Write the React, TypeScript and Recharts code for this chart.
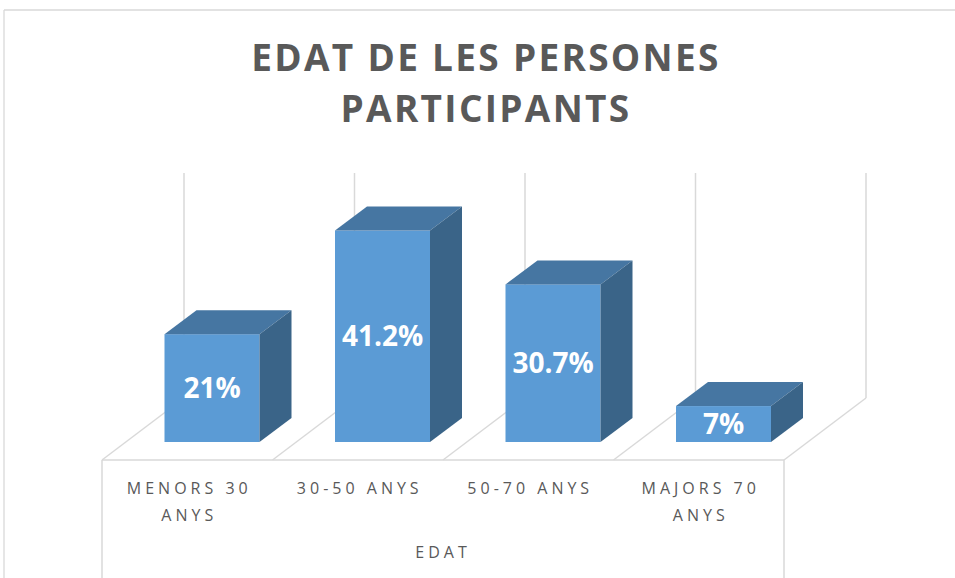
import React from "react";
import { Bar, BarChart, LabelList, XAxis, YAxis } from "recharts";

const categories = ["MENORS 30 ANYS", "30-50 ANYS", "50-70 ANYS", "MAJORS 70 ANYS"];
const percentages = [21, 41.2, 30.7, 7];
const titleLines = ["EDAT DE LES PERSONES", "PARTICIPANTS"];
const axisTitle = "EDAT";

const data = categories.map((name, i) => ({ name, value: percentages[i] }));

const W = 955;
const H = 578;
// plot area = front edge of the 3D floor, bars sit a bit deeper in
const M = { top: 211, right: 171, bottom: 0, left: 102 };
const X_AXIS_H = 136;
const PLOT_W = W - M.left - M.right;
const BAND = PLOT_W / categories.length;
const FLOOR_DX = 82; // floor depth, horizontal part
const FLOOR_DY = 62; // floor depth, vertical part
const FLOOR_FRONT_Y = 460;
const WALL_TOP = 173;
const BAR_SHIFT = 24.5; // bar front face sits this far into the floor
const DEPTH_X = 32;
const DEPTH_Y = 24;

const GRID = "#d9d9d9";
const TEXT = "#595959";
const FRONT = "#5b9bd5";
const TOP = "#4676a2";
const SIDE = "#3a6488";
const FONT = "'Open Sans', 'Noto Sans', sans-serif";

function Box3D(props: any) {
  const { x, y, width: w, height: h } = props;
  if (h == null || w == null) return null;
  const x0 = x + BAR_SHIFT;
  return (
    <g>
      <rect x={x0} y={y} width={w} height={h} fill={FRONT} />
      <polygon
        points={`${x0},${y} ${x0 + DEPTH_X},${y - DEPTH_Y} ${x0 + w + DEPTH_X},${y - DEPTH_Y} ${x0 + w},${y}`}
        fill={TOP}
      />
      <polygon
        points={`${x0 + w},${y} ${x0 + w + DEPTH_X},${y - DEPTH_Y} ${x0 + w + DEPTH_X},${y + h - DEPTH_Y} ${x0 + w},${y + h}`}
        fill={SIDE}
      />
    </g>
  );
}

function ValueLabel(props: any) {
  const { x, y, width, height, value } = props;
  return (
    <text
      x={x + BAR_SHIFT + width / 2}
      y={y + height / 2}
      dy="0.36em"
      textAnchor="middle"
      fill="#ffffff"
      fontFamily={FONT}
      fontWeight={700}
      fontSize={28}
    >
      {`${value}%`}
    </text>
  );
}

// ajusta el text de la categoria en línies que caben a la banda
function wrap(label: string, maxChars = 11) {
  const lines: string[] = [];
  let cur = "";
  for (const w of label.split(" ")) {
    const next = cur ? `${cur} ${w}` : w;
    if (next.length > maxChars && cur) {
      lines.push(cur);
      cur = w;
    } else cur = next;
  }
  if (cur) lines.push(cur);
  return lines;
}

function CategoryTick(props: any) {
  const { x, y, payload } = props;
  const lines = wrap(String(payload.value));
  return (
    <text
      x={x + 2}
      y={y}
      textAnchor="middle"
      fill={TEXT}
      fontFamily={FONT}
      fontSize={16}
      letterSpacing={4}
    >
      {lines.map((l, i) => (
        <tspan key={i} x={x + 2} dy={i === 0 ? 51.5 : 27.5}>
          {l}
        </tspan>
      ))}
    </text>
  );
}

function Frame() {
  const floorBackY = FLOOR_FRONT_Y - FLOOR_DY;
  const edges = Array.from({ length: categories.length + 1 }, (_, i) => M.left + i * BAND);
  const right = M.left + PLOT_W;
  return (
    <svg width={W} height={H} style={{ position: "absolute", left: 0, top: 0 }}>
      <line x1={4} y1={10} x2={W} y2={10} stroke={GRID} strokeWidth={1.3} />
      <line x1={4} y1={10} x2={4} y2={H} stroke={GRID} strokeWidth={1.3} />
      {titleLines.map((t, i) => (
        <text
          key={t}
          x={486}
          y={71 + i * 51}
          textAnchor="middle"
          fill={TEXT}
          fontFamily={FONT}
          fontWeight={700}
          fontSize={37}
          letterSpacing={2.3}
        >
          {t}
        </text>
      ))}
      {edges.map((ex, i) => (
        <g key={i}>
          <line x1={ex + FLOOR_DX} y1={WALL_TOP} x2={ex + FLOOR_DX} y2={floorBackY} stroke={GRID} strokeWidth={1.5} />
          <line x1={ex} y1={FLOOR_FRONT_Y} x2={ex + FLOOR_DX} y2={floorBackY} stroke={GRID} strokeWidth={1.5} />
        </g>
      ))}
      <line x1={M.left} y1={FLOOR_FRONT_Y} x2={right} y2={FLOOR_FRONT_Y} stroke={GRID} strokeWidth={1.5} />
      <line x1={M.left} y1={FLOOR_FRONT_Y} x2={M.left} y2={H} stroke={GRID} strokeWidth={1.5} />
      <line x1={right} y1={FLOOR_FRONT_Y} x2={right} y2={H} stroke={GRID} strokeWidth={1.5} />
    </svg>
  );
}

export default function App() {
  return (
    <div style={{ position: "absolute", left: 0, top: 0, width: W, height: H, background: "#fff" }}>
      <Frame />
      <div style={{ position: "absolute", left: 0, top: 0 }}>
        <BarChart width={W} height={H} data={data} margin={M} accessibilityLayer={false}>
          <XAxis
            dataKey="name"
            height={X_AXIS_H}
            axisLine={false}
            tickLine={false}
            tickSize={0}
            tickMargin={0}
            interval={0}
            tick={<CategoryTick />}
            label={{
              value: axisTitle,
              position: "insideBottom",
              offset: 20,
              fill: TEXT,
              fontSize: 16,
              fontFamily: FONT,
              style: { letterSpacing: 4 },
            }}
          />
          <YAxis hide domain={[0, 45]} />
          <Bar dataKey="value" barSize={95} shape={<Box3D />} isAnimationActive={false}>
            <LabelList dataKey="value" content={<ValueLabel />} />
          </Bar>
        </BarChart>
      </div>
    </div>
  );
}
